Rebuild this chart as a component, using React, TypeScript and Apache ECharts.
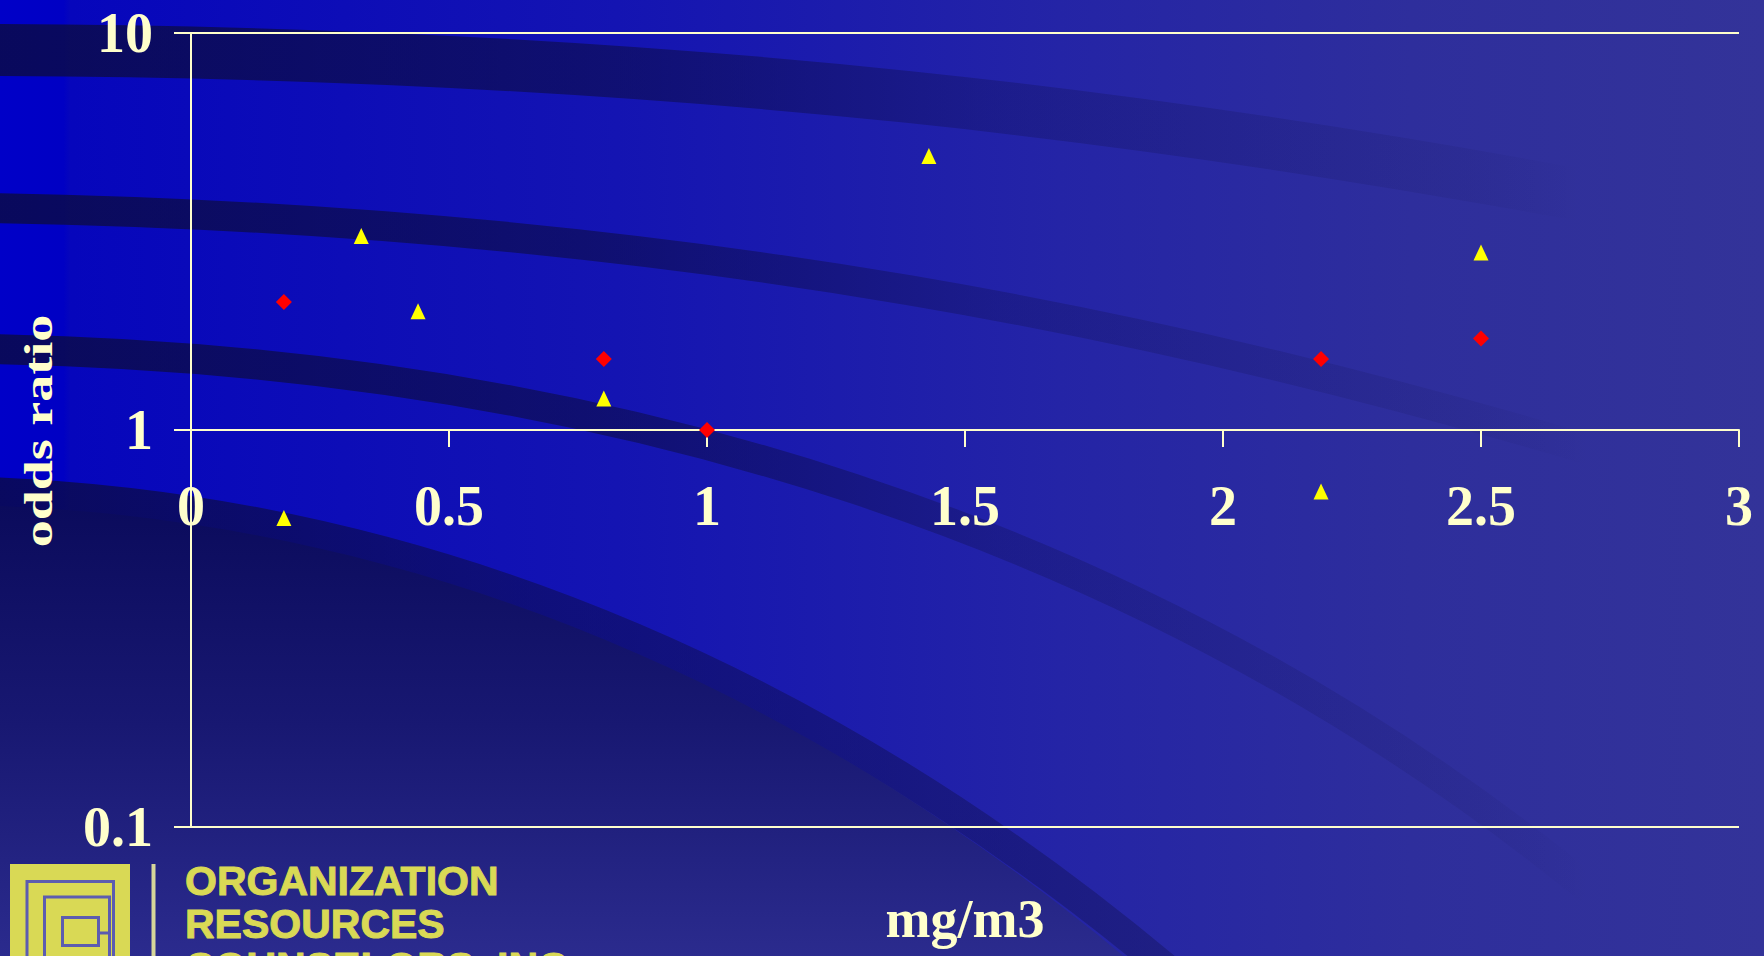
import React, { useEffect, useRef } from 'react';
import * as echarts from 'echarts';

// ---- data ----
const xTicks = [0, 0.5, 1, 1.5, 2, 2.5, 3];
const yTicks = [0.1, 1, 10];
const redX = [0.18, 0.8, 1.0, 2.19, 2.5];
const redY = [2.1, 1.51, 1.0, 1.51, 1.7];
const yellowX = [0.18, 0.33, 0.44, 0.8, 1.43, 2.19, 2.5];
const yellowY = [0.6, 3.08, 1.99, 1.2, 4.9, 0.7, 2.8];
const xName = 'mg/m3';
const yName = 'odds ratio';
const logoLines = ['ORGANIZATION', 'RESOURCES', 'COUNSELORS, INC'];

const W = 1764;
const H = 956;
const CREAM = '#ffffcc';
const SERIF = '"Liberation Serif", "Times New Roman", serif';

echarts.graphic.registerShape(
  'darkRegion',
  echarts.graphic.extendPath('M0 506 C450 524 845 712 1168 994 L0 994 Z', {})
);

const bandGrad = (stops: [number, number][]) => ({
  type: 'linear',
  x: 0,
  y: 0,
  x2: 1,
  y2: 0,
  colorStops: stops.map(([o, a]) => ({ offset: o, color: `rgba(12,12,60,${a})` })),
});

const fadeStops: [number, number][] = [
  [0, 0.77],
  [0.38, 0.55],
  [0.63, 0.26],
  [0.93, 0.08],
  [1, 0],
];

const bands = [
  { p: [-10, 50, 700, 52, 1200, 125, 1580, 195], w: 52, stops: fadeStops },
  { p: [-10, 208, 700, 220, 1200, 335, 1590, 450], w: 30, stops: fadeStops },
  { p: [-10, 349, 600, 360, 1150, 530, 1590, 890], w: 30, stops: fadeStops },
  {
    p: [-10, 492, 450, 510, 850, 700, 1180, 980],
    w: 30,
    stops: [
      [0, 0.75],
      [0.47, 0.47],
      [1, 0.3],
    ] as [number, number][],
  },
];

function buildOption() {
  const bg: any[] = [
    {
      type: 'rect',
      z: -10,
      silent: true,
      shape: { x: 0, y: 0, width: W, height: H },
      style: {
        fill: {
          type: 'linear',
          x: 0,
          y: 0,
          x2: 1,
          y2: 0,
          colorStops: [
            { offset: 0, color: '#0000c8' },
            { offset: 0.036, color: '#0000c4' },
            { offset: 0.04, color: '#0606bc' },
            { offset: 0.35, color: '#1414b2' },
            { offset: 0.6, color: '#2424a6' },
            { offset: 0.8, color: '#2e2e9c' },
            { offset: 1, color: '#333399' },
          ],
        },
      },
    },
  ];
  bands.forEach((b) => {
    bg.push({
      type: 'bezierCurve',
      z: -9,
      silent: true,
      shape: {
        x1: b.p[0],
        y1: b.p[1],
        cpx1: b.p[2],
        cpy1: b.p[3],
        cpx2: b.p[4],
        cpy2: b.p[5],
        x2: b.p[6],
        y2: b.p[7],
      },
      style: { fill: null, stroke: bandGrad(b.stops), lineWidth: b.w },
    });
  });
  bg.push({
    type: 'darkRegion',
    z: -8,
    silent: true,
    x: 0,
    y: 0,
    style: {
      fill: {
        type: 'linear',
        x: 0,
        y: 0,
        x2: 0,
        y2: 1,
        colorStops: [
          { offset: 0, color: '#0b0b5c' },
          { offset: 0.45, color: '#181872' },
          { offset: 1, color: '#2e2e92' },
        ],
      },
    },
  });

  // y axis title
  bg.push({
    type: 'text',
    z: 5,
    x: 38,
    y: 431,
    rotation: Math.PI / 2,
    scaleY: 0.75,
    style: {
      text: yName,
      fontSize: 54,
      fontWeight: 'bold',
      fontFamily: SERIF,
      fill: CREAM,
      align: 'center',
      verticalAlign: 'middle',
    },
  });

  // logo
  const LOGO_Y = '#d9d955';
  const LAV = '#5c5cb0';
  bg.push({ type: 'rect', z: 5, shape: { x: 10, y: 864, width: 120, height: 110 }, style: { fill: LOGO_Y } });
  bg.push({ type: 'rect', z: 6, shape: { x: 27, y: 881.5, width: 86.5, height: 100 }, style: { fill: null, stroke: LAV, lineWidth: 3 } });
  bg.push({ type: 'rect', z: 6, shape: { x: 44.5, y: 897, width: 65, height: 100 }, style: { fill: null, stroke: LAV, lineWidth: 3 } });
  bg.push({ type: 'rect', z: 6, shape: { x: 62.5, y: 917.5, width: 36, height: 28 }, style: { fill: null, stroke: LAV, lineWidth: 3 } });
  bg.push({ type: 'line', z: 6, shape: { x1: 98.5, y1: 933, x2: 109.5, y2: 933 }, style: { stroke: LAV, lineWidth: 3 } });
  bg.push({ type: 'line', z: 5, shape: { x1: 153.5, y1: 864, x2: 153.5, y2: 960 }, style: { stroke: '#d6d69a', lineWidth: 4 } });
  logoLines.forEach((t, i) => {
    bg.push({
      type: 'text',
      z: 5,
      x: 185,
      y: 881 + i * 43,
      style: {
        text: t,
        fontSize: 41,
        fontWeight: 'bold',
        fontFamily: '"Liberation Sans", Arial, sans-serif',
        fill: LOGO_Y,
        stroke: LOGO_Y,
        lineWidth: 1,
        align: 'left',
        verticalAlign: 'middle',
      },
    });
  });

  const labelStyle = {
    color: CREAM,
    fontSize: 56,
    fontWeight: 'bold' as const,
    fontFamily: SERIF,
  };
  const lineStyle = { color: CREAM, width: 2 };

  return {
    animation: false,
    backgroundColor: 'transparent',
    graphic: { elements: bg },
    grid: { left: 191, right: 25, top: 33, bottom: 129, containLabel: false },
    xAxis: {
      type: 'value',
      min: xTicks[0],
      max: xTicks[xTicks.length - 1],
      interval: 0.5,
      offset: -397,
      axisLine: { show: true, onZero: false, lineStyle },
      axisTick: { show: true, length: 17, lineStyle },
      splitLine: { show: false },
      axisLabel: {
        ...labelStyle,
        margin: 76,
        verticalAlign: 'middle',
        formatter: (v: number) => String(v),
      },
      name: xName,
      nameLocation: 'middle',
      nameGap: 462,
      nameTextStyle: { color: CREAM, fontSize: 54, fontWeight: 'bold', fontFamily: SERIF },
    },
    yAxis: {
      type: 'log',
      logBase: 10,
      min: yTicks[0],
      max: yTicks[yTicks.length - 1],
      axisLine: { show: true, lineStyle },
      axisTick: { show: true, length: 17, lineStyle },
      splitLine: { show: true, lineStyle },
      axisLabel: {
        ...labelStyle,
        margin: 38,
        formatter: (v: number) => {
          const t = yTicks.find((k) => Math.abs(Math.log10(k) - Math.log10(v)) < 1e-6);
          return t !== undefined ? String(t) : '';
        },
      },
    },
    series: [
      {
        type: 'scatter',
        name: 'red',
        symbol: 'diamond',
        symbolSize: 16,
        itemStyle: { color: '#ff0000', opacity: 1 },
        data: redX.map((x, i) => [x, redY[i]]),
        z: 10,
      },
      {
        type: 'scatter',
        name: 'yellow',
        symbol: 'triangle',
        symbolSize: [15, 16],
        itemStyle: { color: '#ffff00', opacity: 1 },
        data: yellowX.map((x, i) => [x, yellowY[i]]),
        z: 10,
      },
    ],
  };
}

export default function App() {
  const ref = useRef<HTMLDivElement>(null);
  useEffect(() => {
    document.body.style.margin = '0';
    if (!ref.current) return;
    const chart = echarts.init(ref.current, null, { renderer: 'svg' });
    chart.setOption(buildOption() as any);
    return () => chart.dispose();
  }, []);
  return <div ref={ref} style={{ width: W, height: H, overflow: 'hidden' }} />;
}
